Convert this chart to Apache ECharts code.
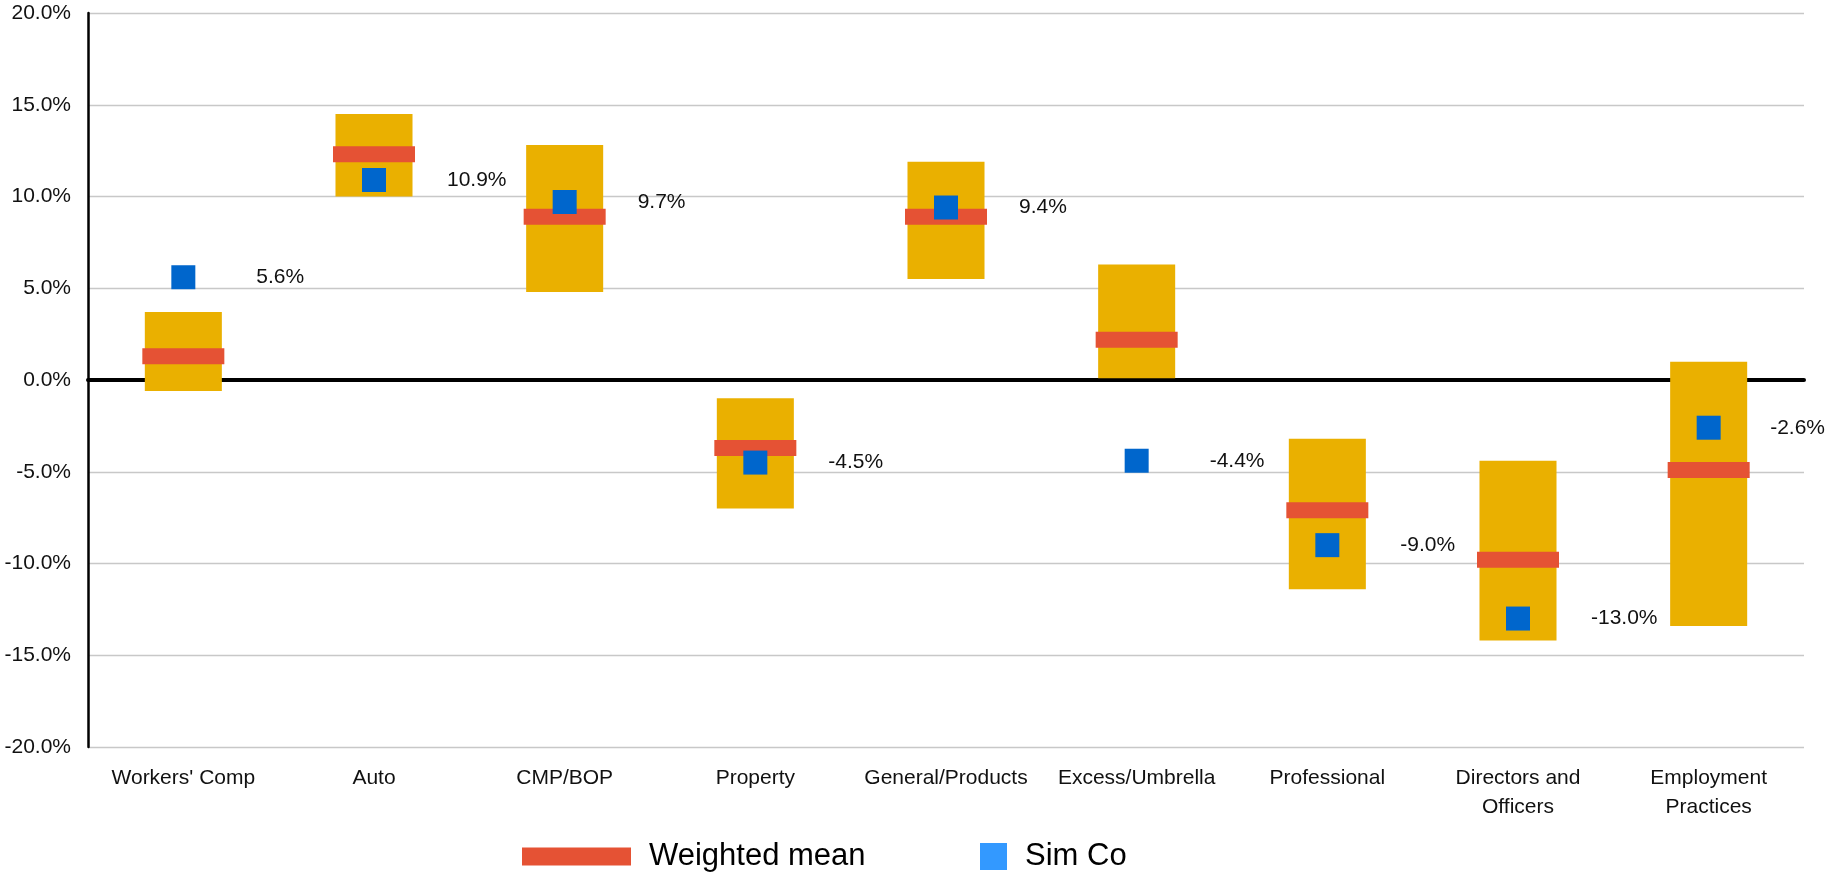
<!DOCTYPE html>
<html>
<head>
<meta charset="utf-8">
<title>Rate change by line of business</title>
<script src="https://cdn.jsdelivr.net/npm/echarts@6/dist/echarts.min.js"></script>
<style>
  html, body { margin: 0; padding: 0; background: #fff; }
  #chart { width: 1828px; height: 873px; }
</style>
</head>
<body>
<div id="chart"></div>
<script>
// Lines of business
const categories = [
  "Workers' Comp", "Auto", "CMP/BOP", "Property", "General/Products",
  "Excess/Umbrella", "Professional", "Directors and\nOfficers", "Employment\nPractices"
];
// Range of peer results (percent): low and high end of each band
const rangeLow  = [-0.6, 10.0, 4.8, -7.0, 5.5, 0.1, -11.4, -14.2, -13.4];
const rangeHigh = [3.7, 14.5, 12.8, -1.0, 11.9, 6.3, -3.2, -4.4, 1.0];
// Weighted mean of peers (percent)
const weightedMean = [1.3, 12.3, 8.9, -3.7, 8.9, 2.2, -7.1, -9.8, -4.9];
// Sim Co result (percent)
const simCo = [5.6, 10.9, 9.7, -4.5, 9.4, -4.4, -9.0, -13.0, -2.6];
// Value axis ticks
const yMin = -20, yMax = 20, yStep = 5;

const FONT = "'Liberation Sans', Arial, sans-serif";
const ORANGE = '#EAB000', RED = '#E55234', BLUE = '#0066CC', BLUE_LEGEND = '#3399FF';

const el = document.getElementById('chart');
const chart = echarts.init(el, null, { renderer: 'canvas' });

const rangeData = categories.map((c, i) => [i, rangeLow[i], rangeHigh[i]]);

chart.setOption({
  animation: false,
  backgroundColor: '#fff',
  textStyle: { fontFamily: FONT },
  grid: { left: 88, right: 24, top: 13, bottom: 126, containLabel: false },
  legend: [
    {
      data: [{ name: 'Weighted mean', icon: 'rect', itemStyle: { color: RED } }],
      left: 517, top: 836,
      itemWidth: 109, itemHeight: 18,
      textStyle: { fontFamily: FONT, fontSize: 31, color: '#000', padding: [0, 0, 0, 13] },
      selectedMode: false
    },
    {
      data: [{ name: 'Sim Co', icon: 'rect', itemStyle: { color: BLUE_LEGEND } }],
      left: 975, top: 836,
      itemWidth: 27, itemHeight: 27,
      textStyle: { fontFamily: FONT, fontSize: 31, color: '#000', padding: [0, 0, 0, 13] },
      selectedMode: false
    }
  ],
  xAxis: {
    type: 'category',
    data: categories,
    axisLine: { onZero: true, lineStyle: { color: '#000', width: 4 } },
    axisTick: { show: false },
    axisLabel: {
      interval: 0, margin: 17, fontSize: 21, lineHeight: 29,
      color: '#111', fontFamily: FONT
    },
    splitLine: { show: false }
  },
  yAxis: {
    type: 'value',
    min: yMin, max: yMax, interval: yStep,
    axisLine: { show: true, onZero: false, lineStyle: { color: '#000', width: 2.5 } },
    axisTick: { show: false },
    axisLabel: {
      margin: 17, fontSize: 21, color: '#111', fontFamily: FONT,
      formatter: v => v.toFixed(1) + '%'
    },
    splitLine: { lineStyle: { color: '#c8c8c8', width: 1.3 } }
  },
  series: [
    {
      // Peer range band
      name: 'Range',
      type: 'custom',
      z: 1,
      renderItem: (params, api) => {
        const lowPt = api.coord([api.value(0), api.value(1)]);
        const highPt = api.coord([api.value(0), api.value(2)]);
        const w = api.size([1, 0])[0] * 0.404;
        return {
          type: 'rect',
          shape: { x: lowPt[0] - w / 2, y: highPt[1], width: w, height: lowPt[1] - highPt[1] },
          style: { fill: ORANGE }
        };
      },
      encode: { x: 0, y: [1, 2] },
      data: rangeData
    },
    {
      name: 'Weighted mean',
      type: 'scatter',
      z: 3,
      symbol: 'rect',
      symbolSize: [82, 16],
      itemStyle: { color: RED, opacity: 1 },
      data: weightedMean
    },
    {
      name: 'Sim Co',
      type: 'scatter',
      z: 4,
      symbol: 'rect',
      symbolSize: 24,
      itemStyle: { color: BLUE, opacity: 1 },
      label: {
        show: true,
        position: 'right',
        distance: 61,
        fontSize: 21,
        color: '#111',
        fontFamily: FONT,
        formatter: p => p.value.toFixed(1) + '%'
      },
      // keep value labels inside the canvas on the right edge
      labelLayout: params => {
        const r = params.labelRect;
        const maxRight = el.clientWidth - 3;
        if (r.x + r.width > maxRight) {
          return {
            x: maxRight - r.width, y: r.y + r.height / 2,
            align: 'left', verticalAlign: 'middle'
          };
        }
        return {};
      },
      data: simCo
    }
  ]
});
</script>
</body>
</html>
